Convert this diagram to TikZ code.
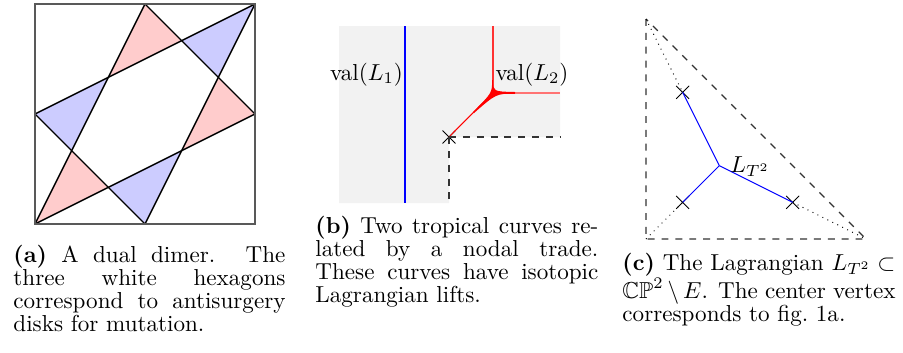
\documentclass[tikz,border=0pt]{standalone}
\usepackage{amssymb}
\usetikzlibrary{shapes.misc}
\begin{document}
\begin{tikzpicture}[x=0.433pt,y=-0.433pt,
  edge/.style={line width=0.6pt},
  xmark/.style={draw, cross out, minimum size=5.2pt, inner sep=0pt, line width=0.4pt},
  captext/.style={anchor=base west, inner sep=0pt, align=justify, font=\fontsize{10}{10}\selectfont},
  lbl/.style={anchor=base, inner sep=0pt},
  dashline/.style={dashed, line width=0.5pt, black!80},
  dotline/.style={dotted, line width=0.4pt},
  thinblue/.style={blue, line width=0.45pt},
  pinkfill/.style={fill=red!20},
  bluefill/.style={fill=blue!20},
]
\useasboundingbox (0,0) rectangle (903,352);

% ---------- panel (a) ----------
\begin{scope}[shift={(35,224)}, x=23.815pt, y=23.815pt]
  \coordinate (BL) at (0,0);
  \coordinate (TR) at (4,4);
  \coordinate (TM) at (2,4);
  \coordinate (RM) at (4,2);
  \coordinate (BM) at (2,0);
  \coordinate (LM) at (0,2);
  \coordinate (p1) at (4/3,8/3);
  \coordinate (p2) at (8/3,10/3);
  \coordinate (p3) at (10/3,8/3);
  \coordinate (p4) at (8/3,4/3);
  \coordinate (p5) at (4/3,2/3);
  \coordinate (p6) at (2/3,4/3);
  \fill[pinkfill] (TM) -- (p1) -- (p2) -- cycle;
  \fill[pinkfill] (RM) -- (p3) -- (p4) -- cycle;
  \fill[pinkfill] (BL) -- (p6) -- (p5) -- cycle;
  \fill[bluefill] (TR) -- (p2) -- (p3) -- cycle;
  \fill[bluefill] (LM) -- (p1) -- (p6) -- cycle;
  \fill[bluefill] (BM) -- (p5) -- (p4) -- cycle;
  \draw[edge] (TM) -- (BL);
  \draw[edge] (TR) -- (BM);
  \draw[edge] (LM) -- (TR);
  \draw[edge] (BL) -- (RM);
  \draw[edge] (TM) -- (RM);
  \draw[edge] (LM) -- (BM);
  \draw[edge, black!65] (BL) rectangle (TR);
\end{scope}

% ---------- panel (b) ----------
\fill[gray!10] (339,26) -- (560,26) -- (560,137) -- (449,137) -- (449,203) -- (339,203) -- cycle;
\coordinate (l1top) at (405,26);
\coordinate (l1bot) at (405,203);
\draw[thinblue] (l1top) -- (l1bot);
\coordinate (v) at (493,92.7);
\coordinate (vtop) at (493,26);
\coordinate (vmid) at (515,92.7);
\coordinate (vright) at (560,92.7);
\draw[red!80, line width=0.45pt] (vtop) -- (v);
\draw[red, line width=0.7pt] (v) -- (vmid);
\draw[red!55, line width=0.7pt] (vmid) -- (vright);
\node[xmark] (nd) at (449,137) {};
\draw[red, line width=0.45pt] (v) -- (nd.center);
\fill[red] (492.8,80) .. controls (493,91.5) .. (515,92) -- (515,93.4)
  .. controls (496,93.8) .. (474,113) -- (473,112)
  .. controls (492,93) .. (492.2,80) -- cycle;
\coordinate (dr) at (560,137);
\coordinate (dd) at (449,203);
\draw[dashline] (nd.center) -- (dr);
\draw[dashline] (nd.center) -- (dd);
\node[lbl] (val1) at (366.5,80) {val$(L_1)$};
\node[lbl] (val2) at (532,80) {val$(L_2)$};

% ---------- panel (c) ----------
\begin{scope}[shift={(646,239)}, x=95.26pt, y=95.26pt]
  \coordinate (o) at (0,0);
  \coordinate (r) at (1,0);
  \coordinate (t) at (0,1);
  \coordinate (m) at (1/3,1/3);
  \node[xmark] (c1) at (1/6,2/3) {};
  \node[xmark] (c2) at (1/6,1/6) {};
  \node[xmark] (c3) at (2/3,1/6) {};
  \draw[dashline] (t) -- (o) -- (r) -- (t);
  \draw[dotline] (t) -- (c1.center);
  \draw[dotline] (o) -- (c2.center);
  \draw[dotline] (c3.center) -- (r);
  \draw[thinblue] (m) -- (c1.center);
  \draw[thinblue] (m) -- (c2.center);
  \draw[thinblue] (m) -- (c3.center);
\end{scope}
\node[lbl, anchor=base west] (lt2) at (730,172) {$L_{T^2}$};

% ---------- captions ----------
\node[captext, text width=117.8pt] (capa) at (13,262)
  {\textbf{(a)} A dual dimer. The\linebreak three white hexagons\linebreak correspond to antisurgery\linebreak disks for mutation.};
\node[captext, text width=122.5pt] (capb) at (315,233)
  {\textbf{(b)} Two tropical curves re-\linebreak lated by a nodal trade.\linebreak These curves have isotopic\linebreak Lagrangian lifts.};
\node[captext, text width=118.2pt] (capc) at (622,270)
  {\textbf{(c)} The Lagrangian $L_{T^2}\subset$\linebreak $\mathbb{CP}^2\setminus E$. The center vertex\linebreak corresponds to fig.\ 1a.};
\end{tikzpicture}
\end{document}
